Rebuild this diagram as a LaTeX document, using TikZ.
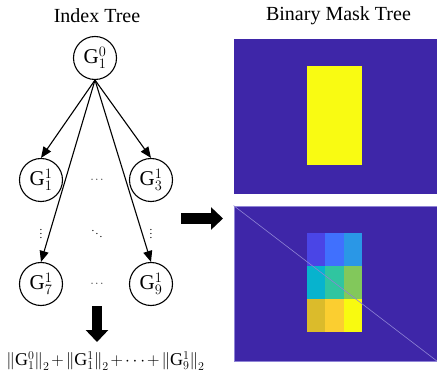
\documentclass[tikz,border=0pt]{standalone}
\usepackage{fontspec}
\setmainfont{Liberation Serif}
\usetikzlibrary{arrows.meta}
\definecolor{maskbg}{HTML}{3E26A8}
\definecolor{maskfg}{HTML}{F9FB12}
\definecolor{edge}{HTML}{8F84D6}
\definecolor{g11}{HTML}{4A45E6}
\definecolor{g12}{HTML}{4070FE}
\definecolor{g13}{HTML}{2A97E6}
\definecolor{g21}{HTML}{07B3CE}
\definecolor{g22}{HTML}{30C5A0}
\definecolor{g23}{HTML}{82C85B}
\definecolor{g31}{HTML}{DBBB2B}
\definecolor{g32}{HTML}{FBCE30}
\definecolor{g33}{HTML}{F8FA10}

\begin{document}
\begin{tikzpicture}[
  x=1pt,y=-1pt,
  t/.style={font=\fontsize{20}{24}\selectfont,inner sep=0pt},
  c/.style={circle,draw,line width=1.1pt,minimum size=43pt,inner sep=0pt,
            font=\fontsize{21}{25}\selectfont},
  d/.style={font=\fontsize{11}{13}\selectfont,inner sep=0pt},
  a/.style={-{Triangle[length=11pt,width=9pt]},line width=1.1pt},
  big/.style={-{Triangle[length=12pt,width=22pt]},line width=10.5pt},
  m/.style={fill=maskbg,inner sep=0pt,minimum width=203pt,minimum height=155pt},
  cell/.style={inner sep=0pt,minimum width=18.33pt,minimum height=33pt}]
\useasboundingbox (0,0) rectangle (437,385);
\node[t] (lt) at (97,16)    {Index Tree};
\node[t] (rt) at (338.5,16) {Binary Mask Tree};
\node[c] (r)  at (95,58)  {$\mathrm{G}_1^0$};
\node[c] (g1) at (41,180) {$\mathrm{G}_1^1$};
\node[c] (g3) at (151,180){$\mathrm{G}_3^1$};
\node[c] (g7) at (41,284) {$\mathrm{G}_7^1$};
\node[c] (g9) at (151,284){$\mathrm{G}_9^1$};
\node[d] (h1) at (97,180) {$\cdots$};
\node[d] (h2) at (97,284) {$\cdots$};
\node[d] (v1) at (41,231) {$\vdots$};
\node[d] (v2) at (151,231){$\vdots$};
\node[d] (dd) at (97,231) {$\ddots$};
\draw[a] (r.south)--(g1.north); \draw[a] (r.south)--(g3.north);
\draw[a] (r.south)--(g7.north); \draw[a] (r.south)--(g9.north);
\coordinate (ds) at (97,306); \coordinate (de) at (97,342);
\draw[big] (ds)--(de);
\node[t,font=\fontsize{18}{22}\selectfont] (sum) at (105.5,361)
  {$\medmuskip=2mu\Bigl\|\mathrm{G}_1^0\Bigr\|_2+\Bigl\|\mathrm{G}_1^1\Bigr\|_2+\cdots+\Bigl\|\mathrm{G}_9^1\Bigr\|_2$};
\coordinate (rs) at (181,218.5); \coordinate (re) at (223,218.5);
\draw[big] (rs)--(re);
\node[m] (m0) at (335.5,116.5) {};
\node[inner sep=0pt,fill=maskfg,minimum width=55pt,minimum height=99pt] (y0) at (334.5,115.5) {};
\node[m,draw=edge,line width=0.8pt] (m1) at (335.5,283.5) {};
\foreach \r in {1,2,3}
  \foreach \k in {1,2,3}
    \node[cell,fill=g\r\k] (c\r\k) at ({307+18.33*(\k-0.5)},{233+33*(\r-0.5)}) {};
\draw[edge,line width=0.6pt] (m1.north west)--(m1.south east);
\end{tikzpicture}
\end{document}
